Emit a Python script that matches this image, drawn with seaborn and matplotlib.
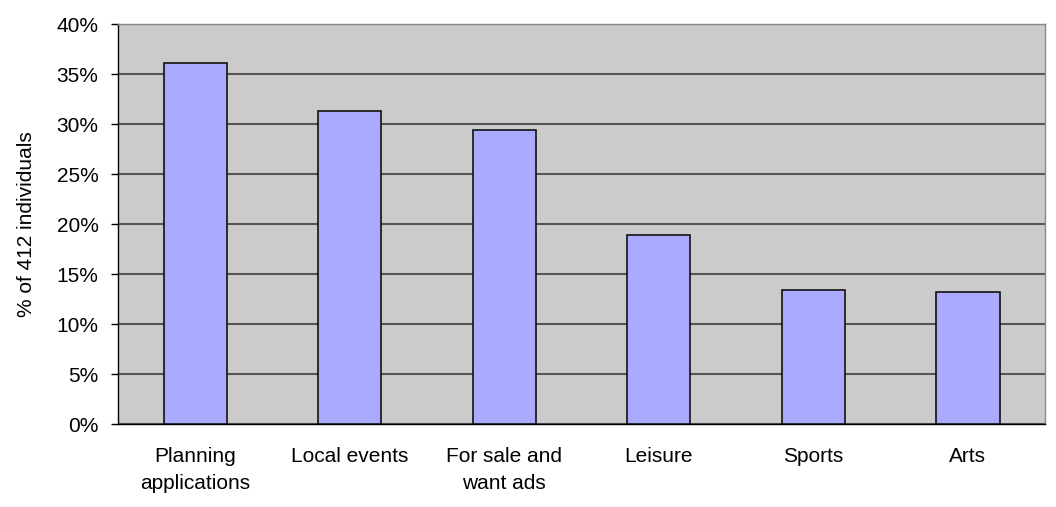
import pandas as pd
import matplotlib.pyplot as plt
import seaborn as sns
import numpy as np
from matplotlib.ticker import PercentFormatter, FixedLocator

categories = ["Planning\napplications", "Local events", "For sale and\nwant ads",
              "Leisure", "Sports", "Arts"]
percent = [36.1, 31.3, 29.4, 18.9, 13.4, 13.2]

df = pd.DataFrame({"category": categories, "percent": percent})

sns.set_style("white")
plt.rcParams["font.family"] = ["Liberation Sans", "DejaVu Sans"]
plt.rcParams["text.color"] = "black"
plt.rcParams["axes.labelcolor"] = "black"
plt.rcParams["xtick.labelcolor"] = "black"
plt.rcParams["ytick.labelcolor"] = "black"

fig = plt.figure(figsize=(10.56, 5.07), dpi=100)
ax = fig.add_axes([0.1117, 0.163, 0.878, 0.789])
ax.set_facecolor("#CBCBCB")

sns.barplot(data=df, x="category", y="percent", color="#AAAAFF",
            saturation=1, width=0.41, edgecolor="#111111", linewidth=1.2,
            ax=ax, zorder=3)

ax.set_ylim(0, 40)
ax.set_xlim(-0.5, len(categories) - 0.5)
ax.set_yticks(np.arange(0, 41, 5))
ax.yaxis.set_major_formatter(PercentFormatter(decimals=0))
ax.grid(axis="y", color="#555555", linewidth=1.5, zorder=1)
ax.set_axisbelow(True)

# category boundary ticks on the x axis
ax.xaxis.set_minor_locator(FixedLocator(np.arange(-0.5, len(categories), 1)))
ax.tick_params(axis="x", which="major", length=0, pad=16, labelsize=15)
ax.tick_params(axis="x", which="minor", length=5, width=1, color="black", direction="out")
ax.tick_params(axis="y", which="major", length=5, width=1, color="black",
               direction="out", labelsize=15, left=True, pad=9)
for lbl in ax.get_xticklabels():
    lbl.set_linespacing(1.55)

for s in ["left", "bottom"]:
    ax.spines[s].set_color("black")
    ax.spines[s].set_linewidth(1)
for s in ["top", "right"]:
    ax.spines[s].set_color("#888888")
    ax.spines[s].set_linewidth(1)

ax.set_xlabel("")
ax.set_ylabel("% of 412 individuals", fontsize=15, labelpad=15)

fig.savefig("out.png", dpi=100)
plt.close()
